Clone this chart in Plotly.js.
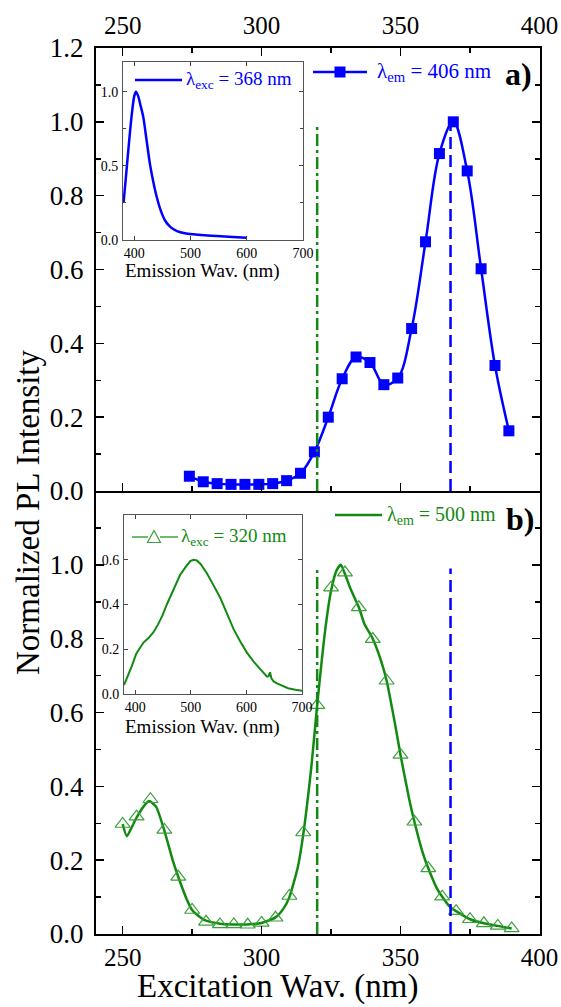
<!DOCTYPE html>
<html>
<head>
<meta charset="utf-8">
<script src="https://cdn.plot.ly/plotly-3.0.1.min.js"></script>
<style>html,body{margin:0;padding:0;background:#fff;}#chart{width:561px;height:1007px;}</style>
</head>
<body>
<div id="chart"></div>
<script>
// ---------- data ----------
// (a) excitation spectrum, emission at 406 nm
var excA_x = [274,279,284,289,294,299,304,309,314,319,324,329,334,339,344,349,354,359,364,369,374,379,384,389];
var excA_y = [0.040,0.025,0.020,0.018,0.018,0.018,0.020,0.028,0.048,0.106,0.200,0.304,0.363,0.348,0.288,0.306,0.440,0.675,0.914,1.000,0.867,0.602,0.340,0.163];
// (b) excitation spectrum, emission at 500 nm : markers
var excB_x = [250,255,260,265,270,275,280,285,290,295,300,305,310,315,320,325,330,335,340,345,350,355,360,365,370,375,380,385,390];
var excB_y = [0.298,0.318,0.365,0.282,0.155,0.065,0.033,0.026,0.026,0.025,0.030,0.044,0.103,0.275,0.620,0.938,0.979,0.885,0.799,0.686,0.485,0.304,0.178,0.101,0.062,0.040,0.029,0.022,0.015];
// (b) excitation spectrum : full curve
var excBline_x = [250,251.5,253,255,257.5,259.5,262,265,268,270,273,275,278,280,285,290,295,300,305,308,310,313,315,318,320,323,325,327,328.5,330,332,335,337,340,343,345,348,350,353,355,358,360,363,365,368,370,375,380,385,390];
var excBline_y = [0.298,0.265,0.285,0.315,0.345,0.360,0.345,0.280,0.200,0.155,0.095,0.065,0.045,0.036,0.028,0.026,0.026,0.030,0.045,0.070,0.100,0.180,0.270,0.460,0.620,0.830,0.930,0.985,1.000,0.975,0.935,0.885,0.840,0.800,0.740,0.686,0.570,0.485,0.370,0.304,0.220,0.178,0.125,0.101,0.072,0.062,0.040,0.029,0.022,0.015];
// inset (a): emission spectrum, excitation 368 nm
var emA_x = [381,386,391,396,400,403,407,411,416,422,428,434,440,447,455,465,476,490,505,525,547,575,600];
var emA_y = [0.25,0.46,0.67,0.86,0.97,1.00,0.97,0.91,0.83,0.67,0.51,0.39,0.29,0.20,0.13,0.085,0.06,0.045,0.038,0.032,0.027,0.020,0.015];
// inset (b): emission spectrum, excitation 320 nm
var emB_x = [380,387,394,402,408,415,424,433,441,449,457,465,473,481,490,499,505,511,518,529,540,553,565,577,589,601,613,625,633,637,640,642.5,645,649,655,665,675,688,700];
var emB_y = [0.04,0.08,0.125,0.18,0.205,0.23,0.25,0.276,0.31,0.35,0.40,0.445,0.49,0.533,0.565,0.594,0.60,0.597,0.58,0.54,0.49,0.43,0.36,0.29,0.235,0.185,0.145,0.11,0.09,0.078,0.08,0.097,0.07,0.056,0.047,0.036,0.026,0.019,0.014];
// reference wavelengths (vertical markers)
var excWav = 320, emWav = 368;
var markerLineY = [0, 0.99];
// tick labels
var mainYTicks = [0,0.2,0.4,0.6,0.8,1.0,1.2];
var mainYTextTop = ['0.0','0.2','0.4','0.6','0.8','1.0','1.2'];
var mainYTextBot = ['0.0','0.2','0.4','0.6','0.8','1.0',' '];
var insetATicks = [0,0.5,1.0];
var insetBTicks = [0,0.2,0.4,0.6];

// ---------- styling ----------
var BLUE = '#0000ff', GREEN = '#128a12';
var FONT = '"Liberation Serif", "Times New Roman", serif';
var W = 561, H = 1007, ML = 96, MR = 21, MT = 48, MB = 73;
var PW = W - ML - MR, PH = H - MT - MB;
function px(x){ return (x - ML) / PW; }
function py(y){ return (H - MB - y) / PH; }

var traces = [
  {x: excA_x, y: excA_y, xaxis:'x2', yaxis:'y2', mode:'lines+markers', line:{color:BLUE, width:2.5, shape:'spline', smoothing:1}, marker:{symbol:'square', size:11, color:BLUE}},
  {x: [excWav, excWav], y: markerLineY, xaxis:'x2', yaxis:'y2', mode:'lines', line:{color:GREEN, width:2.5, dash:'12px,4px,3px,4px'}},
  {x: [emWav, emWav], y: markerLineY, xaxis:'x2', yaxis:'y2', mode:'lines', line:{color:BLUE, width:2.5, dash:'12px,6px'}},
  {x: excBline_x, y: excBline_y, xaxis:'x', yaxis:'y', mode:'lines', line:{color:GREEN, width:2.5, shape:'spline', smoothing:0.6}},
  {x: excB_x, y: excB_y, xaxis:'x', yaxis:'y', mode:'markers', marker:{symbol:'triangle-up-open', size:13, color:'#3aa03a', line:{width:1.2}}},
  {x: [excWav, excWav], y: markerLineY, xaxis:'x', yaxis:'y', mode:'lines', line:{color:GREEN, width:2.5, dash:'12px,4px,3px,4px'}},
  {x: [emWav, emWav], y: markerLineY, xaxis:'x', yaxis:'y', mode:'lines', line:{color:BLUE, width:2.5, dash:'12px,6px'}},
  {x: emA_x, y: emA_y, xaxis:'x3', yaxis:'y3', mode:'lines', line:{color:BLUE, width:2.5, shape:'spline', smoothing:0.8}},
  {x: emB_x, y: emB_y, xaxis:'x4', yaxis:'y4', mode:'lines', line:{color:GREEN, width:2}}
];

var mainX = {range:[240.4,400.2], tickmode:'linear', tick0:250, dtick:50, ticks:'inside', ticklen:8, tickwidth:1.5, tickcolor:'#000',
  minor:{tickmode:'linear', tick0:250, dtick:25, ticks:'inside', ticklen:5, tickwidth:1.5, tickcolor:'#000'},
  showline:true, linecolor:'#000', linewidth:2, showgrid:false, zeroline:false, ticklabelstandoff:0,
  tickfont:{family:FONT, size:25, color:'#000'}};
function mainY(text){ return {range:[0,1.2], tickmode:'array', tickvals:mainYTicks, ticktext:text, ticks:'inside', ticklen:8, tickwidth:1.5, tickcolor:'#000',
  minor:{tickmode:'linear', tick0:0, dtick:0.1, ticks:'inside', ticklen:5, tickwidth:1.5, tickcolor:'#000'},
  showline:true, linecolor:'#000', linewidth:2, mirror:'ticks', showgrid:false, zeroline:false, ticklabelstandoff:5,
  tickfont:{family:FONT, size:27, color:'#000'}}; }
function insetX(dom, anchor){ return {domain:dom, anchor:anchor, range:[380,700], tickmode:'linear', tick0:400, dtick:100, ticks:'inside', ticklen:4, tickwidth:1, tickcolor:'#444',
  showline:true, linecolor:'#555', linewidth:1, mirror:'ticks', showgrid:false, zeroline:false, ticklabelstandoff:0,
  tickfont:{family:FONT, size:14, color:'#000'}}; }
function insetY(dom, anchor, rng, tv, minor){ var o = {domain:dom, anchor:anchor, range:rng, tickmode:'array', tickvals:tv, tickformat:'.1f', ticks:'inside', ticklen:4, tickwidth:1, tickcolor:'#444',
  showline:true, linecolor:'#555', linewidth:1, mirror:'ticks', showgrid:false, zeroline:false, ticklabelstandoff:1,
  tickfont:{family:FONT, size:14, color:'#000'}}; if (minor) o.minor = {tickmode:'linear', tick0:0, dtick:minor, ticks:'inside', ticklen:3, tickwidth:1, tickcolor:'#444'}; return o; }

var layout = {
  width:W, height:H, margin:{l:ML, r:MR, t:MT, b:MB, pad:0},
  paper_bgcolor:'#fff', plot_bgcolor:'#fff', showlegend:false,
  font:{family:FONT, color:'#000'},
  xaxis: Object.assign({}, mainX, {domain:[0,1], anchor:'y', side:'bottom', mirror:false}),
  yaxis: Object.assign(mainY(mainYTextBot), {domain:[0,0.5], anchor:'x'}),
  xaxis2: Object.assign({}, mainX, {domain:[0,1], anchor:'y2', side:'top', matches:'x', mirror:'ticks', ticklabelstandoff:2}),
  yaxis2: Object.assign(mainY(mainYTextTop), {domain:[0.5,1], anchor:'x2'}),
  xaxis3: insetX([px(123), px(303)], 'y3'),
  yaxis3: insetY([py(240), py(62)], 'x3', [0,1.2], insetATicks, 0.25),
  xaxis4: insetX([px(124), px(302)], 'y4'),
  yaxis4: insetY([py(694), py(515)], 'x4', [0,0.8], insetBTicks, null),
  shapes: [
    {type:'line', xref:'paper', yref:'paper', x0:px(313), x1:px(367), y0:py(72), y1:py(72), line:{color:BLUE, width:2.5}},
    {type:'rect', xref:'paper', yref:'paper', x0:px(334.5), x1:px(345.5), y0:py(77.5), y1:py(66.5), fillcolor:BLUE, line:{color:BLUE, width:0}},
    {type:'line', xref:'paper', yref:'paper', x0:px(135), x1:px(182), y0:py(80), y1:py(80), line:{color:BLUE, width:2.5}},
    {type:'line', xref:'paper', yref:'paper', x0:px(335), x1:px(382), y0:py(515), y1:py(515), line:{color:GREEN, width:2.5}},
    {type:'line', xref:'paper', yref:'paper', x0:px(132), x1:px(148), y0:py(537), y1:py(537), line:{color:GREEN, width:1.2}},
    {type:'line', xref:'paper', yref:'paper', x0:px(160), x1:px(178), y0:py(537), y1:py(537), line:{color:GREEN, width:1.2}},
    {type:'path', xref:'paper', yref:'paper', path:'M'+px(147.5)+','+py(542.5)+' L'+px(160.5)+','+py(542.5)+' L'+px(154)+','+py(530.5)+' Z', fillcolor:'rgba(0,0,0,0)', line:{color:'#3aa03a', width:1.2}}
  ],
  annotations: [
    {xref:'paper', yref:'paper', x:px(28), y:py(512), text:'Normalized PL Intensity', textangle:-90, showarrow:false, xanchor:'center', yanchor:'middle', font:{family:FONT, size:33, color:'#000'}},
    {xref:'paper', yref:'paper', x:px(277), y:py(1006), text:'Excitation Wav. (nm)', showarrow:false, xanchor:'center', yanchor:'bottom', borderpad:0, font:{family:FONT, size:33, color:'#000'}},
    {xref:'paper', yref:'paper', x:px(202), y:py(271), text:'Emission Wav. (nm)', showarrow:false, xanchor:'center', yanchor:'middle', font:{family:FONT, size:19, color:'#000'}},
    {xref:'paper', yref:'paper', x:px(202), y:py(727), text:'Emission Wav. (nm)', showarrow:false, xanchor:'center', yanchor:'middle', font:{family:FONT, size:19, color:'#000'}},
    {xref:'paper', yref:'paper', x:px(375), y:py(72), text:'λ<sub>em</sub> = 406 nm', showarrow:false, xanchor:'left', yanchor:'middle', font:{family:FONT, size:21, color:BLUE}},
    {xref:'paper', yref:'paper', x:px(184), y:py(80), text:'λ<sub>exc</sub> = 368 nm', showarrow:false, xanchor:'left', yanchor:'middle', font:{family:FONT, size:19, color:BLUE}},
    {xref:'paper', yref:'paper', x:px(385), y:py(515), text:'λ<sub>em</sub> = 500 nm', showarrow:false, xanchor:'left', yanchor:'middle', font:{family:FONT, size:20, color:GREEN}},
    {xref:'paper', yref:'paper', x:px(179), y:py(537), text:'λ<sub>exc</sub> = 320 nm', showarrow:false, xanchor:'left', yanchor:'middle', font:{family:FONT, size:19, color:GREEN}},
    {xref:'paper', yref:'paper', x:px(503), y:py(74), text:'<b>a)</b>', showarrow:false, xanchor:'left', yanchor:'middle', font:{family:FONT, size:32, color:'#000'}},
    {xref:'paper', yref:'paper', x:px(504), y:py(519), text:'<b>b)</b>', showarrow:false, xanchor:'left', yanchor:'middle', font:{family:FONT, size:32, color:'#000'}}
  ]
};

Plotly.newPlot('chart', traces, layout, {staticPlot:true, displayModeBar:false});
</script>
</body>
</html>
